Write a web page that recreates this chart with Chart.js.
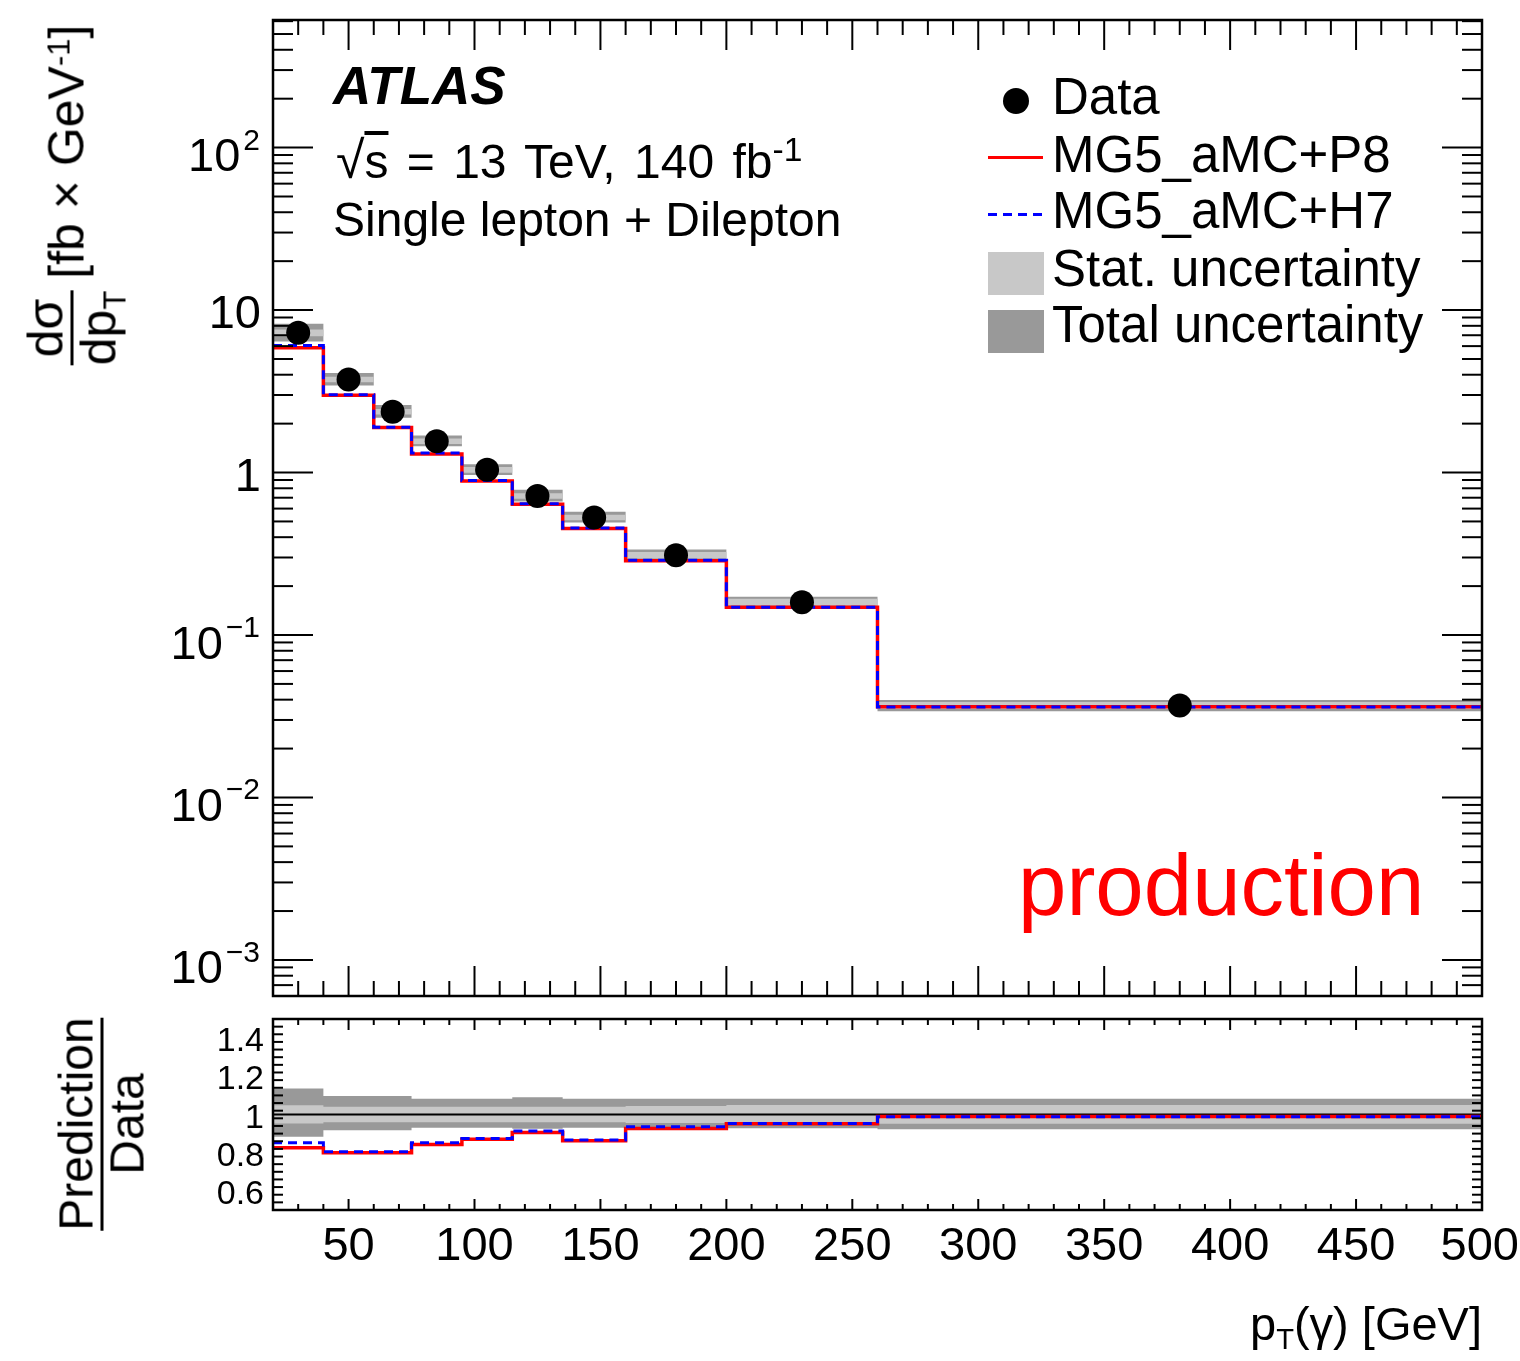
<!DOCTYPE html>
<html>
<head>
<meta charset="utf-8">
<script src="https://cdn.jsdelivr.net/npm/chart.js@4.4.1/dist/chart.umd.min.js"></script>
<style>
html,body{margin:0;padding:0;background:#fff;}
#wrap{position:relative;width:1520px;height:1361px;overflow:hidden;font-family:"Liberation Sans",Arial,Helvetica,sans-serif;color:#000;background:#fff;}
canvas{position:absolute;left:0;}
.t{position:absolute;white-space:nowrap;line-height:1;}
.rot{position:absolute;transform:translate(-50%,-50%) rotate(-90deg);display:flex;align-items:center;white-space:nowrap;line-height:1;}
.frac{display:inline-flex;flex-direction:column;align-items:center;line-height:1;}
.frac .bar{height:3px;background:#000;align-self:stretch;}
.sub{position:relative;top:0.32em;font-size:0.62em;}
.sup{position:relative;top:-0.45em;font-size:0.62em;}
.box{position:absolute;}
</style>
</head>
<body>
<div id="wrap">
  <canvas id="main" width="1520" height="1008" style="top:0"></canvas>
  <canvas id="ratio" width="1520" height="353" style="top:1008px"></canvas>

  <div class="t" style="left:333px;top:59px;font-size:53px;font-weight:bold;font-style:italic;">ATLAS</div>
  <div class="t" style="left:336px;top:135px;font-size:48px;word-spacing:5px;"><span style="font-size:1.08em;">√</span><span style="text-decoration:overline;">s</span> = 13 TeV, 140 fb<span class="sup" style="font-size:0.7em;top:-0.5em;">-1</span></div>
  <div class="t" style="left:333px;top:196px;font-size:48px;">Single lepton + Dilepton</div>

  <div class="box" style="left:1003px;top:88px;width:26px;height:26px;border-radius:50%;background:#000;"></div>
  <div class="box" style="left:988px;top:156px;width:55px;height:3px;background:#ff0000;"></div>
  <div class="box" style="left:988px;top:213px;width:55px;height:3px;background:repeating-linear-gradient(90deg,#0000ff 0 9px,transparent 9px 15px);"></div>
  <div class="box" style="left:988px;top:252px;width:56px;height:43px;background:#c8c8c8;"></div>
  <div class="box" style="left:988px;top:310px;width:56px;height:43px;background:#999999;"></div>
  <div class="t" style="left:1052px;top:71px;font-size:51px;">Data</div>
  <div class="t" style="left:1052px;top:129px;font-size:51px;">MG5_aMC+P8</div>
  <div class="t" style="left:1052px;top:185px;font-size:51px;">MG5_aMC+H7</div>
  <div class="t" style="left:1052px;top:243px;font-size:51px;">Stat. uncertainty</div>
  <div class="t" style="left:1052px;top:299px;font-size:51px;">Total uncertainty</div>

  <div class="t" style="left:1018px;top:841px;font-size:87px;color:#ff0000;">production</div>

  <div class="rot" style="left:72px;top:195px;font-size:50px;">
    <span class="frac"><span>dσ</span><span class="bar"></span><span>dp<span class="sub">T</span></span></span><span style="margin-left:12px;position:relative;top:-6px;">[fb × GeV<span class="sup">-1</span>]</span>
  </div>
  <div class="rot" style="left:102px;top:1124px;font-size:48px;">
    <span class="frac"><span>Prediction</span><span class="bar"></span><span>Data</span></span>
  </div>
  <div class="t" style="right:38px;top:1300px;font-size:47px;">p<span class="sub">T</span>(γ) [GeV]</div>
</div>

<script>
// ---------------- data ----------------
const binEdges   = [20, 40, 60, 75, 95, 115, 135, 160, 200, 260, 500];
const binCenters = [30, 50, 67.5, 85, 105, 125, 147.5, 180, 230, 380];
const dataXsec   = [7.25, 3.74, 2.37, 1.56, 1.04, 0.718, 0.529, 0.310, 0.159, 0.0368];
const predP8     = [5.87, 2.99, 1.89, 1.30, 0.888, 0.638, 0.453, 0.286, 0.148, 0.0362];
const predH7     = [6.05, 3.01, 1.90, 1.32, 0.893, 0.642, 0.455, 0.288, 0.148, 0.0360];
const statUp     = [0.049, 0.040, 0.040, 0.040, 0.040, 0.040, 0.040, 0.045, 0.050, 0.050];
const statDn     = [0.047, 0.040, 0.040, 0.040, 0.040, 0.040, 0.040, 0.045, 0.048, 0.048];
const totUp      = [0.136, 0.097, 0.097, 0.083, 0.083, 0.090, 0.083, 0.083, 0.083, 0.083];
const totDn      = [0.117, 0.082, 0.082, 0.070, 0.070, 0.075, 0.070, 0.070, 0.072, 0.077];
const ratioP8    = [0.826, 0.800, 0.800, 0.843, 0.870, 0.906, 0.863, 0.927, 0.951, 0.990];
const ratioH7    = [0.852, 0.805, 0.805, 0.852, 0.875, 0.913, 0.866, 0.936, 0.953, 0.988];
const xTickLabels     = [50, 100, 150, 200, 250, 300, 350, 400, 450, 500];
const yDecadeExps     = [-3, -2, -1, 0, 1, 2];
const ratioTickLabels = [0.6, 0.8, 1, 1.2, 1.4];

// ---------------- helpers ----------------
function steps(vals){
  const pts = vals.map((v,i)=>({x:binEdges[i], y:v}));
  pts.push({x:binEdges[binEdges.length-1], y:vals[vals.length-1]});
  return pts;
}
function scaled(base, rel, sign){ return base.map((v,i)=>v*(1+sign*rel[i])); }
function seg(ctx,x1,y1,x2,y2){ctx.beginPath();ctx.moveTo(x1,y1);ctx.lineTo(x2,y2);ctx.stroke();}
const FONT = '"Liberation Sans", Arial, sans-serif';
const STEP = 'before';

function bandSets(lo, hi, color, orderBase){
  return [
    {data:steps(lo), stepped:STEP, borderColor:'rgba(0,0,0,0)', borderWidth:0, pointRadius:0, fill:false, order:orderBase+1},
    {data:steps(hi), stepped:STEP, borderColor:'rgba(0,0,0,0)', borderWidth:0, pointRadius:0, fill:'-1', backgroundColor:color, order:orderBase}
  ];
}

// ---------------- main panel ----------------
const mainAxes = {
  id:'mainAxes',
  afterDraw(chart){
    const {ctx, chartArea:a, scales:{x,y}} = chart;
    ctx.save();
    ctx.strokeStyle='#000'; ctx.lineWidth=2;
    for(let v=30; v<500; v+=10){
      const px = x.getPixelForValue(v);
      const L = (v%50===0)?30:15;
      seg(ctx,px,a.bottom,px,a.bottom-L); seg(ctx,px,a.top,px,a.top+L);
    }
    for(let e=-4;e<=2;e++) for(let k=1;k<=9;k++){
      const v = k*Math.pow(10,e);
      if(v<=y.min*1.0001 || v>=y.max) continue;
      const py = y.getPixelForValue(v);
      const L = (k===1)?40:20;
      seg(ctx,a.left,py,a.left+L,py); seg(ctx,a.right,py,a.right-L,py);
    }
    ctx.lineWidth=2.5;
    ctx.strokeRect(a.left,a.top,a.right-a.left,a.bottom-a.top);
    ctx.fillStyle='#000'; ctx.textAlign='right'; ctx.textBaseline='alphabetic';
    const R = 260;
    yDecadeExps.forEach(n=>{
      const py = y.getPixelForValue(Math.pow(10,n));
      if(n===0 || n===1){
        ctx.font='47px '+FONT; ctx.fillText(n===0?'1':'10', R+1, py+18);
      } else {
        const ex = n<0 ? '\u2212'+(-n) : String(n);
        ctx.font='30px '+FONT;
        const w = ctx.measureText(ex).width;
        ctx.fillText(ex, R, py+2);
        ctx.font='47px '+FONT;
        ctx.fillText('10', R-w-3, py+23.5);
      }
    });
    ctx.restore();
  }
};

new Chart(document.getElementById('main'), {
  type:'line',
  data:{datasets:[
    ...bandSets(scaled(dataXsec,totDn,-1), scaled(dataXsec,totUp,1), '#999999', 5),
    ...bandSets(scaled(dataXsec,statDn,-1), scaled(dataXsec,statUp,1), '#c8c8c8', 3),
    {data:steps(predP8), stepped:STEP, borderColor:'#ff0000', borderWidth:3.5, pointRadius:0, fill:false, order:2},
    {data:steps(predH7), stepped:STEP, borderColor:'#0000ff', borderWidth:3, borderDash:[9,6], pointRadius:0, fill:false, order:1},
    {data:binCenters.map((c,i)=>({x:c,y:dataXsec[i]})), showLine:false, pointRadius:12, pointHoverRadius:12, pointBackgroundColor:'#000', pointBorderWidth:0, pointBorderColor:'#000', fill:false, order:0}
  ]},
  options:{
    responsive:false, animation:false, events:[],
    layout:{padding:{left:273, top:20, right:38, bottom:11}},
    plugins:{legend:{display:false}, tooltip:{enabled:false}},
    scales:{
      x:{type:'linear', min:20, max:500, bounds:'data', display:false},
      y:{type:'logarithmic', min:6e-4, max:610, bounds:'data', display:false}
    }
  },
  plugins:[mainAxes]
});

// ---------------- ratio panel ----------------
const ratioAxes = {
  id:'ratioAxes',
  afterDraw(chart){
    const {ctx, chartArea:a, scales:{x,y}} = chart;
    ctx.save();
    ctx.strokeStyle='#000'; ctx.lineWidth=2;
    for(let v=30; v<500; v+=10){
      const px = x.getPixelForValue(v);
      const L = (v%50===0)?11:6;
      seg(ctx,px,a.bottom,px,a.bottom-L); seg(ctx,px,a.top,px,a.top+L);
    }
    for(let i=1;i<25;i++){
      const v = 0.5 + i*0.04;
      const py = y.getPixelForValue(v);
      const q = v/0.2;
      const L = (Math.abs(q-Math.round(q))<1e-6)?22:10;
      seg(ctx,a.left,py,a.left+L,py); seg(ctx,a.right,py,a.right-L,py);
    }
    ctx.lineWidth=2.5;
    ctx.strokeRect(a.left,a.top,a.right-a.left,a.bottom-a.top);
    ctx.fillStyle='#000'; ctx.textBaseline='alphabetic';
    ctx.textAlign='right'; ctx.font='34px '+FONT;
    ratioTickLabels.forEach(v=>{
      ctx.fillText(String(v), 264, y.getPixelForValue(v)+13);
    });
    ctx.textAlign='center'; ctx.font='47px '+FONT;
    xTickLabels.forEach(v=>{
      let px = x.getPixelForValue(v);
      const w = ctx.measureText(String(v)).width;
      if(px + w/2 > 1519) px = 1519 - w/2;
      ctx.fillText(String(v), px, a.bottom+50);
    });
    ctx.restore();
  }
};

new Chart(document.getElementById('ratio'), {
  type:'line',
  data:{datasets:[
    ...bandSets(totDn.map(d=>1-d), totUp.map(u=>1+u), '#999999', 6),
    ...bandSets(statDn.map(d=>1-d), statUp.map(u=>1+u), '#c8c8c8', 4),
    {data:[{x:binEdges[0],y:1},{x:binEdges[binEdges.length-1],y:1}], borderColor:'#000', borderWidth:2, pointRadius:0, fill:false, order:3},
    {data:steps(ratioP8), stepped:STEP, borderColor:'#ff0000', borderWidth:3.5, pointRadius:0, fill:false, order:2},
    {data:steps(ratioH7), stepped:STEP, borderColor:'#0000ff', borderWidth:3, borderDash:[9,6], pointRadius:0, fill:false, order:1}
  ]},
  options:{
    responsive:false, animation:false, events:[],
    layout:{padding:{left:273, top:11, right:38, bottom:151}},
    plugins:{legend:{display:false}, tooltip:{enabled:false}},
    scales:{
      x:{type:'linear', min:20, max:500, bounds:'data', display:false},
      y:{type:'linear', min:0.5, max:1.5, bounds:'data', display:false}
    }
  },
  plugins:[ratioAxes]
});
</script>
</body>
</html>
